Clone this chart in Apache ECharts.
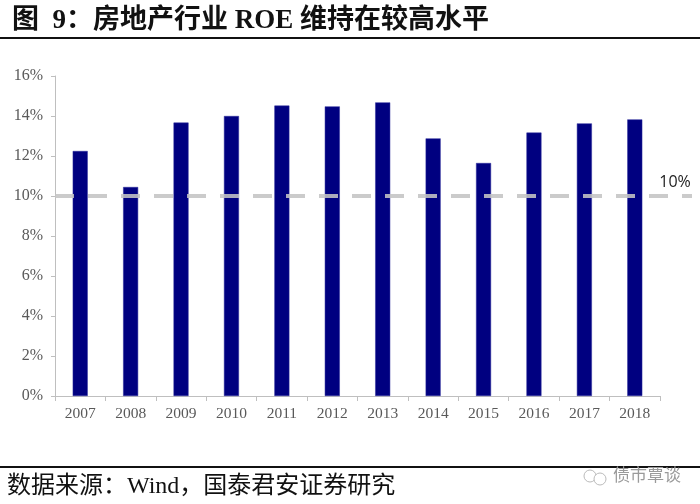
<!DOCTYPE html>
<html>
<head>
<meta charset="utf-8">
<script src="https://cdn.jsdelivr.net/npm/echarts@6/dist/echarts.min.js"></script>
<style>html,body{margin:0;padding:0;background:#fff}#c{width:700px;height:504px}</style>
</head>
<body>
<div id="c"></div>
<script>
const categories = ['2007','2008','2009','2010','2011','2012','2013','2014','2015','2016','2017','2018'];
const roeValues = [12.25, 10.45, 13.67, 14.0, 14.52, 14.48, 14.68, 12.88, 11.65, 13.17, 13.63, 13.83];
const refLevel = 10;
const refLabel = '10%';
const yTicks = {min: 0, max: 16, interval: 2};
const titleText = '图  9：房地产行业 ROE 维持在较高水平';
const sourceText = '数据来源：Wind，国泰君安证券研究';
const watermarkText = '债市覃谈';

const serif = "'Liberation Serif','Noto Sans CJK SC',serif";
const chart = echarts.init(document.getElementById('c'), null, {renderer: 'canvas'});
chart.setOption({
  animation: false,
  backgroundColor: '#ffffff',
  title: {
    text: titleText, left: 7, top: 3,
    textStyle: {fontFamily: serif, fontWeight: 'bold', fontSize: 27, color: '#111'}
  },
  grid: {left: 55, right: 40, top: 76, bottom: 108, containLabel: false},
  xAxis: {
    type: 'category', data: categories, boundaryGap: true,
    axisLine: {lineStyle: {color: '#bfbfbf', width: 1}},
    axisTick: {show: true, alignWithLabel: false, length: 5, lineStyle: {color: '#bfbfbf'}},
    axisLabel: {margin: 10, fontFamily: serif, fontSize: 15.5, color: '#595959'}
  },
  yAxis: {
    type: 'value', min: yTicks.min, max: yTicks.max, interval: yTicks.interval,
    axisLine: {show: true, lineStyle: {color: '#bfbfbf', width: 1}},
    axisTick: {show: true, length: 4, lineStyle: {color: '#bfbfbf'}},
    splitLine: {show: false},
    axisLabel: {margin: 12, fontFamily: serif, fontSize: 16, color: '#595959', formatter: '{value}%'}
  },
  series: [{
    type: 'bar', data: roeValues, barWidth: 15,
    itemStyle: {color: '#000080', borderColor: '#2a2a9a', borderWidth: 0.5},
    z: 2,
    markLine: {
      silent: true, symbol: 'none', z: 5,
      lineStyle: {color: '#c4c4c4', width: 4, type: [19, 14], opacity: 0.88},
      label: {show: false},
      data: [[{x: 55, yAxis: refLevel}, {x: 692, yAxis: refLevel}]]
    }
  }, {
    type: 'line', data: [], markPoint: {
      silent: true, symbol: 'rect', symbolSize: 0,
      label: {show: true, formatter: refLabel, fontFamily: "'Open Sans','Liberation Sans',sans-serif", fontSize: 16, color: '#222', position: 'inside', offset: [0, 0]},
      data: [{x: 675, yAxis: refLevel + 0.7}]
    }
  }],
  graphic: [
    {type: 'line', shape: {x1: 0, y1: 38, x2: 700, y2: 38}, style: {stroke: '#111', lineWidth: 2}},
    {type: 'line', shape: {x1: 0, y1: 467, x2: 700, y2: 467}, style: {stroke: '#111', lineWidth: 2}},
    {type: 'text', left: 7, top: 475, style: {text: sourceText, font: "24px 'Liberation Serif','Noto Sans CJK SC',serif", fill: '#111'}},
    {type: 'text', left: 613, top: 466, style: {text: watermarkText, font: "17px 'Noto Sans CJK SC',sans-serif", fill: '#9a9a9a'}},
    {type: 'circle', shape: {cx: 590, cy: 476, r: 6}, style: {fill: 'none', stroke: '#bbb', lineWidth: 1}},
    {type: 'circle', shape: {cx: 600, cy: 479, r: 6}, style: {fill: '#fff', stroke: '#bbb', lineWidth: 1}}
  ]
});
</script>
</body>
</html>
